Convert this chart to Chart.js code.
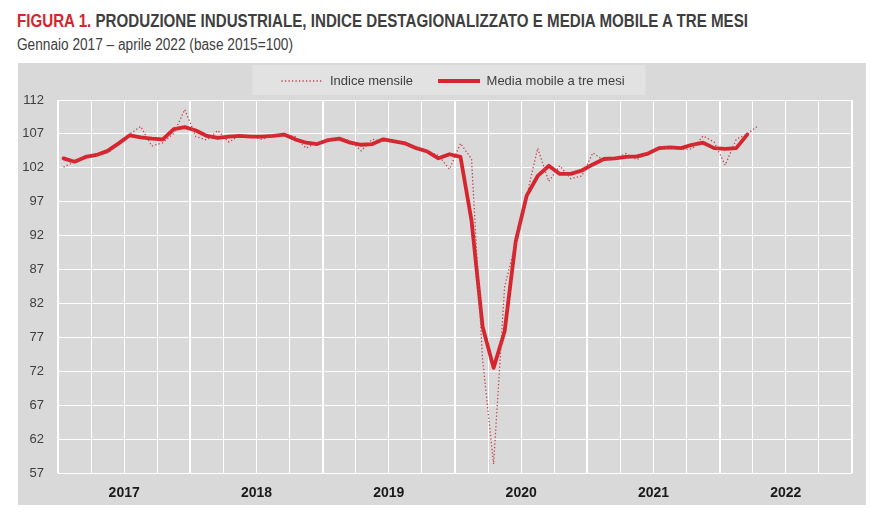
<!DOCTYPE html>
<html>
<head>
<meta charset="utf-8">
<script src="https://cdn.jsdelivr.net/npm/chart.js@4.4.1/dist/chart.umd.min.js"></script>
<style>
html,body{margin:0;padding:0;background:#fff;width:895px;height:524px;overflow:hidden}
.nf{font-family:'Liberation Sans Narrow','Arial Narrow','Liberation Sans',Arial,sans-serif}
#t{position:absolute;left:17px;top:11px;font-weight:bold;font-size:18px;line-height:21px;color:#3f3f3f;white-space:nowrap;transform-origin:0 0}
#t span{color:#d7252e}
#s{position:absolute;left:17px;top:36px;font-size:16px;line-height:18px;color:#404040;white-space:nowrap;transform-origin:0 0}
#w{position:absolute;left:18px;top:63px;width:848px;height:442px;background:#d9d9d9}
canvas{display:block}
</style>
</head>
<body>
<div id="t" class="nf"><span>FIGURA 1.</span> PRODUZIONE INDUSTRIALE, INDICE DESTAGIONALIZZATO E MEDIA MOBILE A TRE MESI</div>
<div id="s" class="nf">Gennaio 2017 – aprile 2022 (base 2015=100)</div>
<div id="w"><canvas id="c" width="848" height="442"></canvas></div>
<script>
// ---- data ----
const months = ['gen','feb','mar','apr','mag','giu','lug','ago','set','ott','nov','dic'];
const years = ['2017','2018','2019','2020','2021','2022'];
const categories = years.flatMap(y => months.map(m => m + ' ' + y));

const indiceMensile = [
  102.1, 102.9, 103.7, 103.9, 104.2, 105.4, 107.0, 108.1, 105.2, 105.7, 107.1, 110.6,
  106.6, 106.1, 107.5, 105.8, 106.8, 106.6, 106.2, 106.8, 107.0, 106.6, 104.9, 105.7,
  106.2, 106.4, 106.0, 104.5, 106.2, 105.9, 106.0, 105.6, 105.0, 104.5, 103.8, 101.8,
  105.6, 103.3, 73.8, 58.3, 84.5, 90.9, 97.9, 104.9, 100.0, 102.3, 100.4, 100.8,
  104.2, 103.1, 103.4, 104.1, 103.2, 104.3, 105.1, 104.9, 104.7, 104.8, 106.7, 105.8,
  102.4, 106.2, 107.0, 108.2
];
const mediaMobile = [
  103.4, 102.9, 103.6, 103.9, 104.5, 105.6, 106.8, 106.5, 106.3, 106.2, 107.7, 108.0,
  107.5, 106.7, 106.4, 106.6, 106.7, 106.6, 106.6, 106.7, 106.9, 106.2, 105.7, 105.5,
  106.1, 106.3, 105.7, 105.4, 105.5, 106.2, 105.9, 105.6, 104.9, 104.4, 103.4, 104.0,
  103.6, 94.2, 78.6, 72.5, 77.9, 91.1, 97.9, 100.8, 102.3, 101.1, 101.1, 101.6,
  102.5, 103.3, 103.4, 103.6, 103.7, 104.1, 104.9, 105.0, 104.9, 105.4, 105.7, 104.9,
  104.8, 104.9, 106.9
];
const seriesNames = ['Indice mensile', 'Media mobile a tre mesi'];
const yMin = 57, yMax = 112, yStep = 5;

// ---- title fit ----
function fitW(id, w) {
  const el = document.getElementById(id);
  const r = el.getBoundingClientRect().width;
  el.style.transform = 'scaleX(' + (w / r) + ')';
}
fitW('t', 731);
fitW('s', 276);

const FF = "'Liberation Sans', Arial, sans-serif";

const legendTweak = {
  id: 'legendTweak',
  beforeLayout(chart) {
    const lg = chart.legend;
    if (lg && !lg._patched) {
      const f = lg.fit;
      lg.fit = function () { f.call(this); this.height = 37; };
      lg._patched = true;
    }
  },
  afterLayout(chart) {
    const lg = chart.legend;
    lg.top = -13.5; lg.bottom = lg.top + 37;
    lg.left += 18; lg.right += 18;
  },
  beforeDraw(chart) {
    const lg = chart.legend;
    const hb = lg.legendHitBoxes;
    if (!hb || !hb.length) return;
    const last = hb[hb.length - 1];
    const ctx = chart.ctx;
    ctx.save();
    ctx.fillStyle = '#e2e2e2';
    const l = hb[0].left - 29, r = last.left + last.width + 21;
    ctx.fillRect(l, 2, r - l, 30);
    ctx.restore();
  }
};

new Chart(document.getElementById('c'), {
  type: 'line',
  data: {
    labels: categories,
    datasets: [
      {
        label: seriesNames[0],
        data: indiceMensile,
        borderColor: '#c4414f',
        borderWidth: 1.3,
        borderDash: [1.3, 2.2],
        pointRadius: 0, pointHoverRadius: 0,
        tension: 0, fill: false
      },
      {
        label: seriesNames[1],
        data: mediaMobile,
        borderColor: '#d7252e',
        borderWidth: 3.8,
        borderJoinStyle: 'round',
        borderCapStyle: 'round',
        pointRadius: 0, pointHoverRadius: 0,
        tension: 0, fill: false
      }
    ]
  },
  options: {
    responsive: false,
    devicePixelRatio: 1,
    animation: false,
    layout: { padding: { left: 0, right: 14, top: 0, bottom: 0 } },
    plugins: {
      tooltip: { enabled: false },
      legend: {
        position: 'top',
        align: 'center',
        labels: {
          font: { family: FF, size: 13 },
          color: '#404040',
          usePointStyle: true,
          pointStyle: 'line',
          pointStyleWidth: 42,
          boxHeight: 13,
          padding: 25,
          generateLabels(chart) {
            const items = Chart.defaults.plugins.legend.labels.generateLabels(chart);
            items.forEach(it => {
              const ds = chart.data.datasets[it.datasetIndex];
              it.lineDash = ds.borderDash || [];
              it.lineWidth = ds.borderWidth;
              it.strokeStyle = ds.borderColor;
              it.lineCap = 'butt';
            });
            return items;
          }
        }
      }
    },
    scales: {
      x: {
        type: 'category',
        offset: true,
        ticks: { display: false, autoSkip: false },
        border: { display: false },
        grid: {
          offset: true,
          drawTicks: false,
          color: c => (c.index === undefined || c.index % 3 === 0) ? '#ffffff' : 'rgba(0,0,0,0)',
          lineWidth: c => (c.index === undefined || c.index % 12 === 0) ? 2 : 1
        },
        afterFit: s => { s.height = 0; }
      },
      x2: {
        type: 'category',
        position: 'bottom',
        labels: years,
        offset: true,
        border: { display: false },
        grid: { display: false, drawTicks: false },
        ticks: { font: { family: FF, size: 14, weight: 'bold' }, color: '#1a1a1a', padding: 12, maxRotation: 0 },
        afterFit: s => { s.height = 32; }
      },
      y: {
        min: yMin, max: yMax,
        ticks: { stepSize: yStep, font: { family: FF, size: 13 }, color: '#404040', padding: 14 },
        border: { display: false },
        grid: { color: '#ffffff', lineWidth: 1, drawTicks: false },
        afterFit: s => { s.width = 40; }
      }
    }
  },
  plugins: [legendTweak]
});
</script>
</body>
</html>
